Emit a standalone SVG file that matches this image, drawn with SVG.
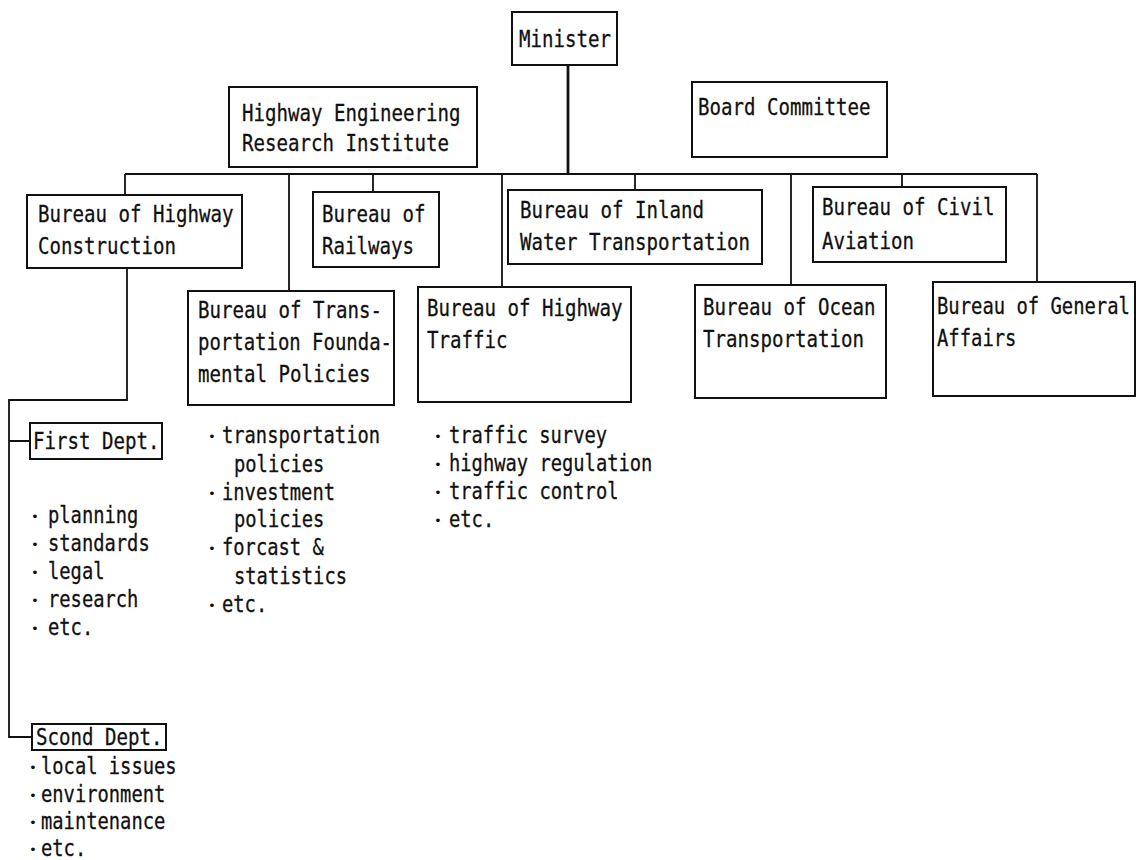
<svg xmlns="http://www.w3.org/2000/svg" width="1138" height="860" viewBox="0 0 1138 860">
<style>
.box{fill:none;stroke:#111;stroke-width:2}
.c{fill:none;stroke:#111;stroke-width:1.8}
.t{font-family:"DejaVu Sans Mono","Liberation Mono",monospace;font-size:23px;fill:#111;stroke:#111;stroke-width:0.3}
.b{font-family:"DejaVu Sans Mono","Liberation Mono",monospace;font-size:13px;fill:#111}
</style>
<rect width="1138" height="860" fill="#fff"/>
<g id="connectors">
<path class="c" d="M568,65 V174" style="stroke-width:2.8"/>
<path class="c" d="M125,174 H1037"/>
<path class="c" d="M125,174 V195 M289,174 V291 M373,174 V192 M502,174 V287 M635,174 V190 M791,174 V285 M902,174 V187 M1037,174 V282"/>
<path class="c" d="M127,268 V400 H9 V737 H32 M9,441 H30"/>
</g>
<g id="minister">
<rect class="box" x="512" y="12" width="105" height="53"/>
<text class="t" x="519" y="47" textLength="92" lengthAdjust="spacingAndGlyphs">Minister</text>
</g>
<g id="heri">
<rect class="box" x="229" y="87" width="248" height="80"/>
<text class="t" x="242" y="121" textLength="218.5" lengthAdjust="spacingAndGlyphs">Highway Engineering</text>
<text class="t" x="242" y="151" textLength="207" lengthAdjust="spacingAndGlyphs">Research Institute</text>
</g>
<g id="board">
<rect class="box" x="692" y="82" width="195" height="75"/>
<text class="t" x="698" y="115" textLength="172.5" lengthAdjust="spacingAndGlyphs">Board Committee</text>
</g>
<g id="construction">
<rect class="box" x="27" y="195" width="215" height="73"/>
<text class="t" x="38" y="222" textLength="195.5" lengthAdjust="spacingAndGlyphs">Bureau of Highway</text>
<text class="t" x="38" y="254" textLength="138" lengthAdjust="spacingAndGlyphs">Construction</text>
</g>
<g id="railways">
<rect class="box" x="313" y="192" width="126" height="75"/>
<text class="t" x="322" y="222" textLength="103.5" lengthAdjust="spacingAndGlyphs">Bureau of</text>
<text class="t" x="322" y="254" textLength="92" lengthAdjust="spacingAndGlyphs">Railways</text>
</g>
<g id="inland">
<rect class="box" x="508" y="190" width="254" height="74"/>
<text class="t" x="520" y="218" textLength="184" lengthAdjust="spacingAndGlyphs">Bureau of Inland</text>
<text class="t" x="520" y="250" textLength="230" lengthAdjust="spacingAndGlyphs">Water Transportation</text>
</g>
<g id="civil">
<rect class="box" x="813" y="187" width="193" height="75"/>
<text class="t" x="822" y="215" textLength="172.5" lengthAdjust="spacingAndGlyphs">Bureau of Civil</text>
<text class="t" x="822" y="249" textLength="92" lengthAdjust="spacingAndGlyphs">Aviation</text>
</g>
<g id="trans">
<rect class="box" x="188" y="291" width="206" height="114"/>
<text class="t" x="198" y="318" textLength="184" lengthAdjust="spacingAndGlyphs">Bureau of Trans-</text>
<text class="t" x="198" y="350" textLength="194" lengthAdjust="spacingAndGlyphs">portation Founda-</text>
<text class="t" x="198" y="382" textLength="172.5" lengthAdjust="spacingAndGlyphs">mental Policies</text>
</g>
<g id="traffic">
<rect class="box" x="418" y="287" width="213" height="115"/>
<text class="t" x="427" y="316" textLength="195.5" lengthAdjust="spacingAndGlyphs">Bureau of Highway</text>
<text class="t" x="427" y="348" textLength="80.5" lengthAdjust="spacingAndGlyphs">Traffic</text>
</g>
<g id="ocean">
<rect class="box" x="695" y="285" width="191" height="113"/>
<text class="t" x="703" y="315" textLength="172.5" lengthAdjust="spacingAndGlyphs">Bureau of Ocean</text>
<text class="t" x="703" y="347" textLength="161" lengthAdjust="spacingAndGlyphs">Transportation</text>
</g>
<g id="general">
<rect class="box" x="933" y="282" width="202" height="114"/>
<text class="t" transform="translate(937,314) scale(0.82,1)">Bureau of General</text>
<text class="t" transform="translate(937,346) scale(0.82,1)">Affairs</text>
</g>
<g id="first-dept">
<rect class="box" x="30" y="423" width="132" height="36"/>
<text class="t" x="33" y="449" textLength="126.5" lengthAdjust="spacingAndGlyphs">First Dept.</text>
</g>
<g id="second-dept">
<rect class="box" x="32" y="724" width="134" height="26"/>
<text class="t" x="36" y="745" textLength="126.5" lengthAdjust="spacingAndGlyphs">Scond Dept.</text>
</g>
<g id="list-first">
<text class="b" x="31" y="521">•</text><text class="t" x="48" y="523" textLength="90.4" lengthAdjust="spacingAndGlyphs">planning</text>
<text class="b" x="31" y="549">•</text><text class="t" x="48" y="551" textLength="101.7" lengthAdjust="spacingAndGlyphs">standards</text>
<text class="b" x="31" y="577">•</text><text class="t" x="48" y="579" textLength="56.5" lengthAdjust="spacingAndGlyphs">legal</text>
<text class="b" x="31" y="605">•</text><text class="t" x="48" y="607" textLength="90.4" lengthAdjust="spacingAndGlyphs">research</text>
<text class="b" x="31" y="633">•</text><text class="t" x="48" y="635" textLength="45.2" lengthAdjust="spacingAndGlyphs">etc.</text>
</g>
<g id="list-second">
<text class="b" x="29" y="772">•</text><text class="t" x="41" y="774" textLength="135.6" lengthAdjust="spacingAndGlyphs">local issues</text>
<text class="b" x="29" y="800">•</text><text class="t" x="41" y="802" textLength="124.3" lengthAdjust="spacingAndGlyphs">environment</text>
<text class="b" x="29" y="827">•</text><text class="t" x="41" y="829" textLength="124.3" lengthAdjust="spacingAndGlyphs">maintenance</text>
<text class="b" x="29" y="854">•</text><text class="t" x="41" y="856" textLength="45.2" lengthAdjust="spacingAndGlyphs">etc.</text>
</g>
<g id="list-trans">
<text class="b" x="208" y="441">•</text><text class="t" x="222" y="443" textLength="158" lengthAdjust="spacingAndGlyphs">transportation</text>
<text class="t" x="234" y="472" textLength="90.4" lengthAdjust="spacingAndGlyphs">policies</text>
<text class="b" x="208" y="498">•</text><text class="t" x="222" y="500" textLength="113" lengthAdjust="spacingAndGlyphs">investment</text>
<text class="t" x="234" y="527" textLength="90.4" lengthAdjust="spacingAndGlyphs">policies</text>
<text class="b" x="208" y="553">•</text><text class="t" x="222" y="555" textLength="101.7" lengthAdjust="spacingAndGlyphs">forcast &amp;</text>
<text class="t" x="234" y="584" textLength="113" lengthAdjust="spacingAndGlyphs">statistics</text>
<text class="b" x="208" y="610">•</text><text class="t" x="222" y="612" textLength="45.2" lengthAdjust="spacingAndGlyphs">etc.</text>
</g>
<g id="list-traffic">
<text class="b" x="434" y="441">•</text><text class="t" x="449" y="443" textLength="158" lengthAdjust="spacingAndGlyphs">traffic survey</text>
<text class="b" x="434" y="469">•</text><text class="t" x="449" y="471" textLength="203.4" lengthAdjust="spacingAndGlyphs">highway regulation</text>
<text class="b" x="434" y="497">•</text><text class="t" x="449" y="499" textLength="169.5" lengthAdjust="spacingAndGlyphs">traffic control</text>
<text class="b" x="434" y="525">•</text><text class="t" x="449" y="527" textLength="45.2" lengthAdjust="spacingAndGlyphs">etc.</text>
</g>
</svg>
